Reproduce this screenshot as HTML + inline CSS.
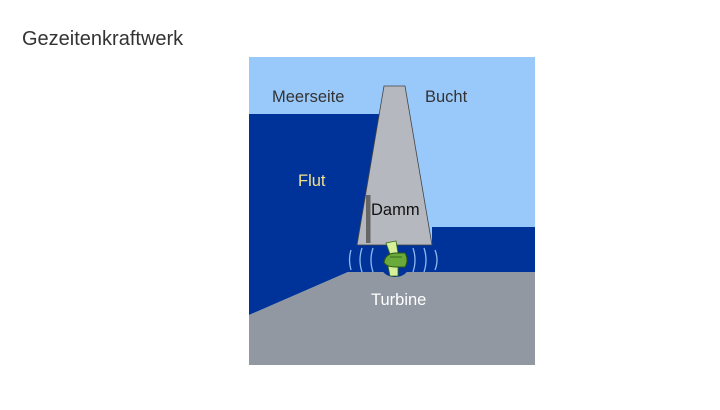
<!DOCTYPE html>
<html><head><style>
body{margin:0;width:720px;height:405px;background:#fff;overflow:hidden;font-family:"Liberation Sans",sans-serif;}
</style></head><body>
<svg width="720" height="405" xmlns="http://www.w3.org/2000/svg" font-family="Liberation Sans, sans-serif">
<text x="22" y="45" font-size="20" fill="#333">Gezeitenkraftwerk</text>
<rect x="249" y="57" width="286" height="308" fill="#99c9fa"/>
<polygon points="249,114 380,114 357,245 432,245 432,227 535,227 535,272 348,272 249,315" fill="#003399"/>
<polygon points="249,315 348,272 535,272 535,365 249,365" fill="#9198a2"/>
<ellipse cx="395" cy="268" rx="13" ry="9" fill="#003399"/>
<polygon points="384,86 405,86 432,245 357,245" fill="#b5b8be" stroke="#444" stroke-width="0.8"/>
<rect x="366" y="195" width="4.5" height="48" fill="#666"/>
<g fill="none" stroke="#8fb8f0" stroke-width="1.3">
<path d="M351,250 q-3,10 0,20"/><path d="M362,248 q-4,12 0,24"/><path d="M373,248 q-4,12 0,24"/>
<path d="M413,248 q4,12 0,24"/><path d="M424,248 q4,12 0,24"/><path d="M435,250 q4,10 0,20"/>
</g>
<polygon points="386,243 396,241 398,253 390,254" fill="#d6f09a" stroke="#3a6a1a" stroke-width="0.8"/>
<polygon points="388,266 398,265 398,276 390,276" fill="#d6f09a" stroke="#3a6a1a" stroke-width="0.8"/>
<path d="M384,262 q2,-9 12,-9 h9 q4,7 0,14 h-9 q-10,0 -12,-5z" fill="#6aaa3a" stroke="#2d5a12" stroke-width="1"/>
<path d="M390,257 h12" stroke="#2d5a12" stroke-width="0.8"/>
<text x="272" y="102" font-size="16.5" fill="#333">Meerseite</text>
<text x="425" y="102" font-size="16.5" fill="#333">Bucht</text>
<text x="298" y="186" font-size="16.5" fill="#f2e08a">Flut</text>
<text x="371" y="215" font-size="16.5" fill="#111">Damm</text>
<text x="371" y="305" font-size="16.5" fill="#fff">Turbine</text>
</svg>
</body></html>
